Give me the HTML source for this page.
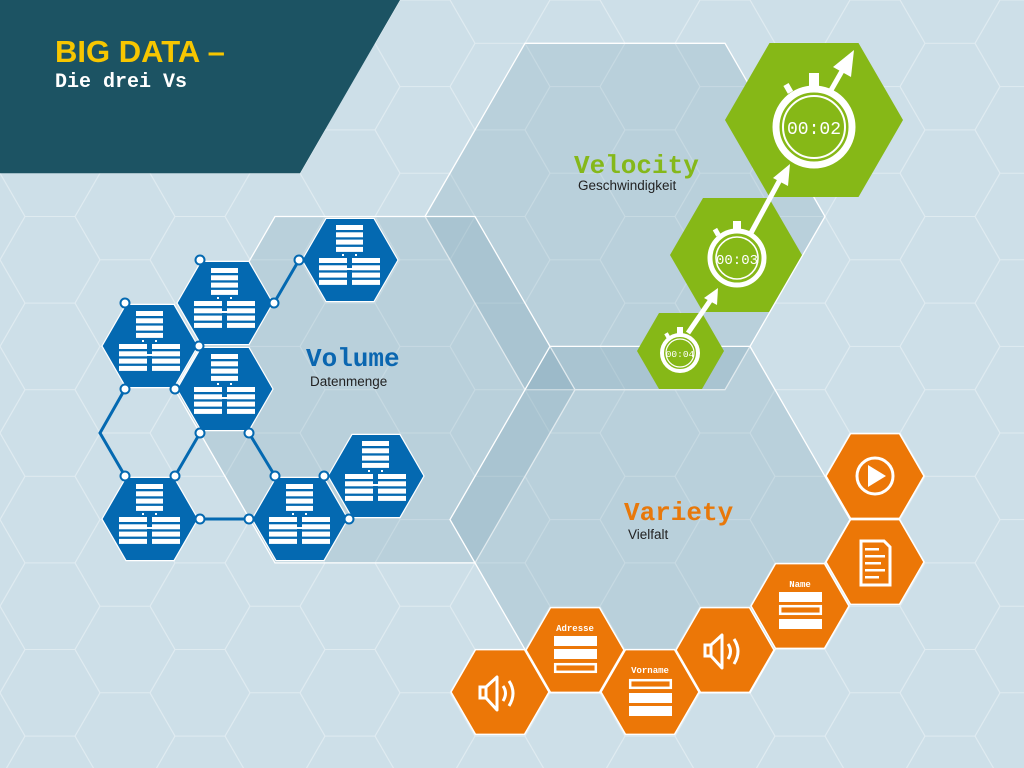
<!DOCTYPE html>
<html><head><meta charset="utf-8"><style>
html,body{margin:0;padding:0;background:#cddfe8;}
svg{display:block;}
</style></head><body>
<svg width="1024" height="768" viewBox="0 0 1024 768" xmlns="http://www.w3.org/2000/svg">
<defs>
<pattern id="grid" patternUnits="userSpaceOnUse" x="0" y="0" width="150" height="86.6">
<g fill="none" stroke="#e4eef3" stroke-width="1" opacity="0.8">
<polygon points="0,0 25,-43.3 75,-43.3 100,0 75,43.3 25,43.3"/>
<polygon points="0,86.6 25,43.3 75,43.3 100,86.6 75,129.9 25,129.9"/>
<polygon points="75,43.3 100,0 150,0 175,43.3 150,86.6 100,86.6"/>
<polygon points="-75,43.3 -50,0 0,0 25,43.3 0,86.6 -50,86.6"/>
</g>
</pattern>
<g id="db" fill="#fff">
<rect x="-14" y="-35" width="27" height="5"/><rect x="-14" y="-27.7" width="27" height="5"/><rect x="-14" y="-20.4" width="27" height="5"/><rect x="-14" y="-13.1" width="27" height="5"/>
<rect x="-31" y="-2" width="28" height="5"/><rect x="-31" y="5.3" width="28" height="5"/><rect x="-31" y="12.6" width="28" height="5"/><rect x="-31" y="19.9" width="28" height="5"/>
<rect x="2" y="-2" width="28" height="5"/><rect x="2" y="5.3" width="28" height="5"/><rect x="2" y="12.6" width="28" height="5"/><rect x="2" y="19.9" width="28" height="5"/>
<rect x="-3" y="8" width="5" height="2"/>
<rect x="-8" y="-6" width="2" height="2"/><rect x="5" y="-6" width="2" height="2"/>
</g>
<polygon id="bhex" points="-48,0 -24,-41.6 24,-41.6 48,0 24,41.6 -24,41.6" fill="#0469b1" stroke="#fff" stroke-width="1.2"/>
<polygon id="ohex" points="-49,0 -24.5,-42.4 24.5,-42.4 49,0 24.5,42.4 -24.5,42.4" fill="#ec7707" stroke="#fff" stroke-width="1.5"/>
<g id="spk" fill="none" stroke="#fff" stroke-width="3">
<rect x="-20" y="-5" width="6" height="11"/>
<polygon points="-14,-5 -3,-15 -3,18 -14,6" stroke-linejoin="round"/>
<path d="M3,-6 Q8,1 3,9"/><path d="M9,-11 Q17,1 9,14"/>
</g>
</defs>
<rect width="1024" height="768" fill="#cddfe8"/>
<rect width="1024" height="768" fill="url(#grid)"/>

<!-- big translucent hexes -->
<g fill="rgb(105,150,172)" fill-opacity="0.2" stroke="#fff" stroke-width="1.3">
<polygon points="425,216.5 525,43.3 725,43.3 825,216.5 725,389.7 525,389.7"/>
<polygon points="175,389.7 275,216.5 475,216.5 575,389.7 475,562.9 275,562.9"/>
<polygon points="450,519.6 550,346.4 750,346.4 850,519.6 750,692.8 550,692.8"/>
</g>

<!-- header panel -->
<polygon points="0,0 400,0 300,173.2 0,173.2" fill="#1c5363"/>
<text x="55" y="62" font-family="Liberation Sans, sans-serif" font-weight="bold" font-size="31" fill="#f7c600">BIG DATA –</text>
<text x="55" y="87" font-family="Liberation Mono, monospace" font-weight="bold" font-size="20" fill="#fff">Die drei Vs</text>

<!-- labels -->
<text x="574" y="173" font-family="Liberation Mono, monospace" font-weight="bold" font-size="26" fill="#85b81a">Velocity</text>
<text x="578" y="190" font-family="Liberation Sans, sans-serif" font-size="13.5" fill="#222">Geschwindigkeit</text>
<text x="306" y="366" font-family="Liberation Mono, monospace" font-weight="bold" font-size="26" fill="#0a66b0">Volume</text>
<text x="310" y="386" font-family="Liberation Sans, sans-serif" font-size="13.5" fill="#222">Datenmenge</text>
<text x="624" y="520" font-family="Liberation Mono, monospace" font-weight="bold" font-size="26" fill="#e8780a">Variety</text>
<text x="628" y="539" font-family="Liberation Sans, sans-serif" font-size="13.5" fill="#222">Vielfalt</text>

<!-- volume connectors -->
<g stroke="#0469b1" stroke-width="3" fill="none">
<line x1="274" y1="303" x2="299" y2="260"/>
<polyline points="125,389 100,433 125,476"/>
<line x1="200" y1="433" x2="175" y2="476"/>
<line x1="249" y1="433" x2="275" y2="476"/>
<line x1="200" y1="519" x2="249" y2="519"/>
</g>
<use href="#bhex" x="350" y="260"/><use href="#db" x="350" y="260"/>
<use href="#bhex" x="225" y="303"/><use href="#db" x="225" y="303"/>
<use href="#bhex" x="150" y="346"/><use href="#db" x="150" y="346"/>
<use href="#bhex" x="225" y="389"/><use href="#db" x="225" y="389"/>
<use href="#bhex" x="150" y="519"/><use href="#db" x="150" y="519"/>
<use href="#bhex" x="300" y="519"/><use href="#db" x="300" y="519"/>
<use href="#bhex" x="376" y="476"/><use href="#db" x="376" y="476"/>
<g fill="#fff" stroke="#0469b1" stroke-width="2">
<circle cx="200" cy="260" r="4.5"/><circle cx="125" cy="303" r="4.5"/><circle cx="199" cy="346" r="4.5"/>
<circle cx="274" cy="303" r="4.5"/><circle cx="299" cy="260" r="4.5"/><circle cx="125" cy="389" r="4.5"/>
<circle cx="175" cy="389" r="4.5"/><circle cx="200" cy="433" r="4.5"/><circle cx="249" cy="433" r="4.5"/>
<circle cx="125" cy="476" r="4.5"/><circle cx="175" cy="476" r="4.5"/><circle cx="275" cy="476" r="4.5"/>
<circle cx="324" cy="476" r="4.5"/><circle cx="200" cy="519" r="4.5"/><circle cx="249" cy="519" r="4.5"/>
<circle cx="349" cy="519" r="4.5"/>
</g>

<!-- velocity -->
<polygon points="725,120 769.5,43 858.5,43 903,120 858.5,197 769.5,197" fill="#86b817"/>
<polygon points="670,255 703,198 769,198 802,255 769,312 703,312" fill="#86b817"/>
<polygon points="637,351 659,313 702,313 724,351 702,389 659,389" fill="#86b817"/>
<g fill="none" stroke="#fff">
<circle cx="814" cy="127" r="38" stroke-width="7"/><circle cx="814" cy="127" r="31" stroke-width="2"/>
<circle cx="737" cy="258" r="27" stroke-width="5"/><circle cx="737" cy="258" r="21" stroke-width="1.6"/>
<circle cx="680" cy="353" r="18" stroke-width="4"/><circle cx="680" cy="353" r="14" stroke-width="1.2"/>
</g>
<g fill="#fff">
<rect x="809" y="73" width="10" height="13"/><rect x="785" y="84" width="6" height="9" transform="rotate(-30 788 88)"/>
<rect x="733" y="221" width="8" height="10"/><rect x="714" y="229" width="5" height="7" transform="rotate(-30 716 232)"/>
<rect x="677" y="327" width="6" height="8"/><rect x="665" y="333" width="4" height="5" transform="rotate(-30 667 335)"/>
</g>
<g font-family="Liberation Mono, monospace" fill="#fff" text-anchor="middle">
<text x="814" y="134" font-size="18">00:02</text>
<text x="737" y="264" font-size="14">00:03</text>
<text x="680" y="357" font-size="9.5">00:04</text>
</g>
<g stroke="#fff" stroke-width="5" fill="#fff">
<line x1="688" y1="333" x2="712" y2="298"/>
<polygon points="718,288 717,305 704,298" stroke="none"/>
<line x1="751" y1="233" x2="782" y2="176"/>
<polygon points="790,164 788,186 773,178" stroke="none"/>
<line x1="830" y1="92" x2="846" y2="64"/>
<polygon points="854,50 851,77 833,67" stroke="none"/>
</g>

<!-- variety -->
<use href="#ohex" x="875" y="476"/>
<use href="#ohex" x="875" y="562"/>
<use href="#ohex" x="800" y="606"/>
<use href="#ohex" x="725" y="650"/>
<use href="#ohex" x="650" y="692"/>
<use href="#ohex" x="575" y="650"/>
<use href="#ohex" x="500" y="692"/>
<circle cx="875" cy="476" r="18" fill="none" stroke="#fff" stroke-width="3"/>
<polygon points="868,465 868,487 886,476" fill="#fff"/>
<g fill="none" stroke="#fff" stroke-width="3"><path d="M861,541 H884 L890,547 V585 H861 Z"/></g>
<g fill="#fff"><rect x="865" y="548" width="14" height="2.5"/><rect x="865" y="555" width="20" height="2.5"/><rect x="865" y="562" width="16" height="2.5"/><rect x="865" y="569" width="20" height="2.5"/><rect x="865" y="576" width="14" height="2.5"/></g>
<use href="#spk" x="500" y="692"/>
<use href="#spk" x="725" y="650"/>
<g font-family="Liberation Mono, monospace" font-weight="bold" font-size="9" fill="#fff" text-anchor="middle">
<text x="575" y="631">Adresse</text>
<text x="650" y="673">Vorname</text>
<text x="800" y="587">Name</text>
</g>
<g fill="#fff">
<rect x="554" y="636" width="43" height="10"/><rect x="554" y="649" width="43" height="10"/>
<rect x="629" y="693" width="43" height="10"/><rect x="629" y="706" width="43" height="10"/>
<rect x="779" y="592" width="43" height="10"/><rect x="779" y="619" width="43" height="10"/>
</g>
<g fill="none" stroke="#fff" stroke-width="2.5">
<rect x="555.2" y="664.2" width="40.6" height="7.6"/>
<rect x="630.2" y="680.2" width="40.6" height="7.6"/>
<rect x="780.2" y="606.2" width="40.6" height="7.6"/>
</g>
</svg>
</body></html>
